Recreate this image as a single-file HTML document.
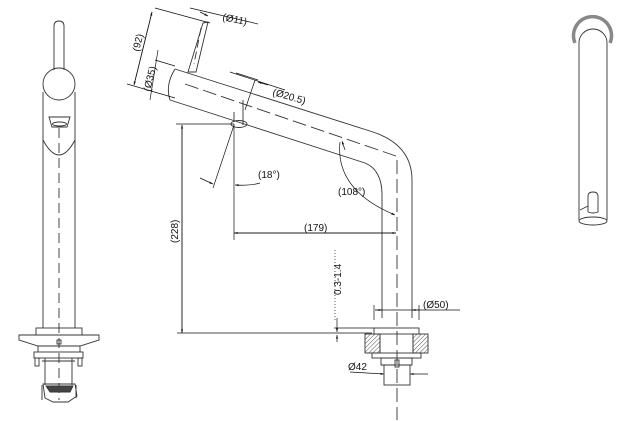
<!DOCTYPE html>
<html><head><meta charset="utf-8"><style>
html,body{margin:0;padding:0;background:#fff;width:640px;height:421px;overflow:hidden}
text{font-family:"Liberation Sans Narrow","Liberation Sans",sans-serif;font-size:10px;fill:#111}
</style></head><body>
<svg width="640" height="421" viewBox="0 0 640 421" xmlns="http://www.w3.org/2000/svg">
<defs>
<pattern id="h" width="3" height="3" patternUnits="userSpaceOnUse" patternTransform="rotate(45)"><line x1="0" y1="0" x2="0" y2="3" stroke="#555" stroke-width="1"/></pattern>
<marker id="a" viewBox="0 0 10 10" refX="10" refY="5" markerWidth="7" markerHeight="5" orient="auto-start-reverse"><path d="M0,2 L10,5 L0,8z" fill="#111"/></marker>
</defs>
<g fill="none" stroke="#333" stroke-width="0.9">
<!-- LEFT VIEW -->
<path d="M54,70 V26 Q54,21 59,21 Q64,21 64,26 V70"/>
<circle cx="59" cy="84" r="16"/>
<path d="M43,92 V328 M75,92 V328"/>
<path d="M43,140 Q59,170 75,140"/>
<path d="M49,117 H70 L67,127 H52 Z"/>
<ellipse cx="59.5" cy="124" rx="7" ry="2"/>
<line x1="59" y1="128" x2="59" y2="400" stroke-dasharray="10,5"/>
<rect x="36" y="328" width="46" height="7"/>
<path d="M19,335 H99 V340 L80,346 H38 L19,340 Z"/>
<rect x="57" y="340" width="4" height="4"/>
<path d="M38,346 V352 M80,346 V352"/>
<rect x="34" y="352" width="49" height="6"/>
<rect x="35" y="358" width="4" height="8"/><rect x="78" y="358" width="4" height="8"/>
<path d="M45,358 V385 M72,358 V385 M42,361 H75"/>
<path d="M43,384 H75 L77,396 L68,402 H53 L45,398 Z"/>
<path d="M46,386 H73 L70,392 H50 Z" fill="#444"/>
<path d="M42,385 V400 M76,385 V398"/>

<!-- MIDDLE VIEW pipe -->
<path d="M203,23 L208,22 L196,72 L188,72 Z"/>
<line x1="201" y1="28" x2="194" y2="64" stroke-dasharray="8,4"/>
<path d="M175,69 L373,132 Q412,145 412,180 V318"/>
<path d="M170,100 L365,163 Q382,170 382,195 V318"/>
<path d="M175,69 Q165,85 170,100"/>
<line x1="185" y1="84" x2="396" y2="156" stroke-dasharray="14,5"/>
<line x1="397" y1="160" x2="397" y2="420" stroke-dasharray="14,5"/>
<ellipse cx="239" cy="124" rx="8" ry="3.5"/>
<path d="M234,122 V112 M243,125 V100"/>
<!-- dims -->
<g stroke="#111" stroke-width="0.7">
<line x1="176" y1="124" x2="234" y2="124"/>
<line x1="182" y1="333" x2="182" y2="125" marker-end="url(#a)"/>
<line x1="182" y1="125" x2="182" y2="333" marker-end="url(#a)"/>
<line x1="177" y1="333" x2="372" y2="333"/>
<line x1="234" y1="124" x2="234" y2="240"/>
<line x1="234" y1="233" x2="396" y2="233" marker-end="url(#a)"/>
<line x1="396" y1="233" x2="234" y2="233" marker-end="url(#a)"/>
<line x1="234" y1="125" x2="213" y2="188"/>
<line x1="200" y1="178" x2="213" y2="184" marker-end="url(#a)"/>
<path d="M260,183 Q250,186 235,185" marker-end="url(#a)"/>
<path d="M340,142 Q335,190 395,215" marker-end="url(#a)"/>
<line x1="345" y1="150" x2="342" y2="141" marker-end="url(#a)"/>
<line x1="155" y1="8" x2="210" y2="23"/>
<line x1="152" y1="12" x2="134" y2="85" marker-end="url(#a)"/>
<line x1="134" y1="85" x2="152" y2="12" marker-end="url(#a)"/>
<line x1="127" y1="84" x2="175" y2="98"/>
<line x1="155" y1="60" x2="175" y2="66"/>
<line x1="158" y1="50" x2="150" y2="100"/>
<line x1="190" y1="8" x2="258" y2="24"/>
<line x1="200" y1="12" x2="208" y2="16" marker-end="url(#a)"/>
<line x1="230" y1="72" x2="285" y2="90"/>
<line x1="236" y1="73" x2="258" y2="80"/>
<line x1="268" y1="85" x2="258" y2="82" marker-end="url(#a)"/>
<line x1="255" y1="80" x2="245" y2="110"/>
<line x1="335" y1="250" x2="335" y2="322" stroke-dasharray="1,2"/>
<line x1="337" y1="318" x2="337" y2="332" marker-end="url(#a)"/>
<line x1="337" y1="342" x2="337" y2="335" marker-end="url(#a)"/>
<line x1="334" y1="328" x2="375" y2="328"/>
<line x1="375" y1="310" x2="382" y2="310" marker-end="url(#a)"/>
<line x1="420" y1="310" x2="412" y2="310" marker-end="url(#a)"/>
<line x1="375" y1="310" x2="460" y2="310"/>
<line x1="374" y1="305" x2="374" y2="320"/><line x1="419" y1="305" x2="419" y2="320"/>
<line x1="350" y1="372" x2="384" y2="374" marker-end="url(#a)"/>
<line x1="428" y1="374" x2="410" y2="374" marker-end="url(#a)"/>
</g>
<!-- fitting -->
<rect x="374" y="328" width="45" height="6"/>
<rect x="365" y="334" width="15" height="19" fill="url(#h)"/>
<rect x="413" y="334" width="15" height="19" fill="url(#h)"/>
<path d="M380,334 V353 M413,334 V353"/>
<rect x="372" y="353" width="49" height="5"/>
<path d="M381,358 H412 V365 H381 Z"/>
<rect x="384" y="365" width="26" height="20"/>
<rect x="395" y="360" width="4" height="7"/>

<!-- RIGHT VIEW -->
<path d="M575,43 A19,19 0 1 1 610,43" stroke="#888" stroke-width="3.5"/>
<path d="M579,43 V220 M607,43 V220 M579,43 A14,14 0 0 1 607,43"/>
<ellipse cx="593" cy="221" rx="14" ry="4"/>
<path d="M588,212 V196 Q588,192 593,192 Q598,192 598,196 V212 Q593,214 588,212"/>
<path d="M580,210 L588,206"/>
</g>
<!-- texts -->
<text x="222" y="20" transform="rotate(12 222 20)">(Ø11)</text>
<text x="139" y="52" transform="rotate(-76 139 52)">(92)</text>
<text x="150" y="92" transform="rotate(-76 150 92)">(Ø35)</text>
<text x="272" y="95" transform="rotate(16 272 95)">(Ø20.5)</text>
<text x="258" y="178">(18°)</text>
<text x="338" y="195">(108°)</text>
<text x="304" y="231">(179)</text>
<text x="178" y="243" transform="rotate(-90 178 243)">(228)</text>
<text x="341" y="295" transform="rotate(-90 341 295)">0.3-1.4</text>
<text x="423" y="308">(Ø50)</text>
<text x="348" y="370">Ø42</text>
</svg>
</body></html>
